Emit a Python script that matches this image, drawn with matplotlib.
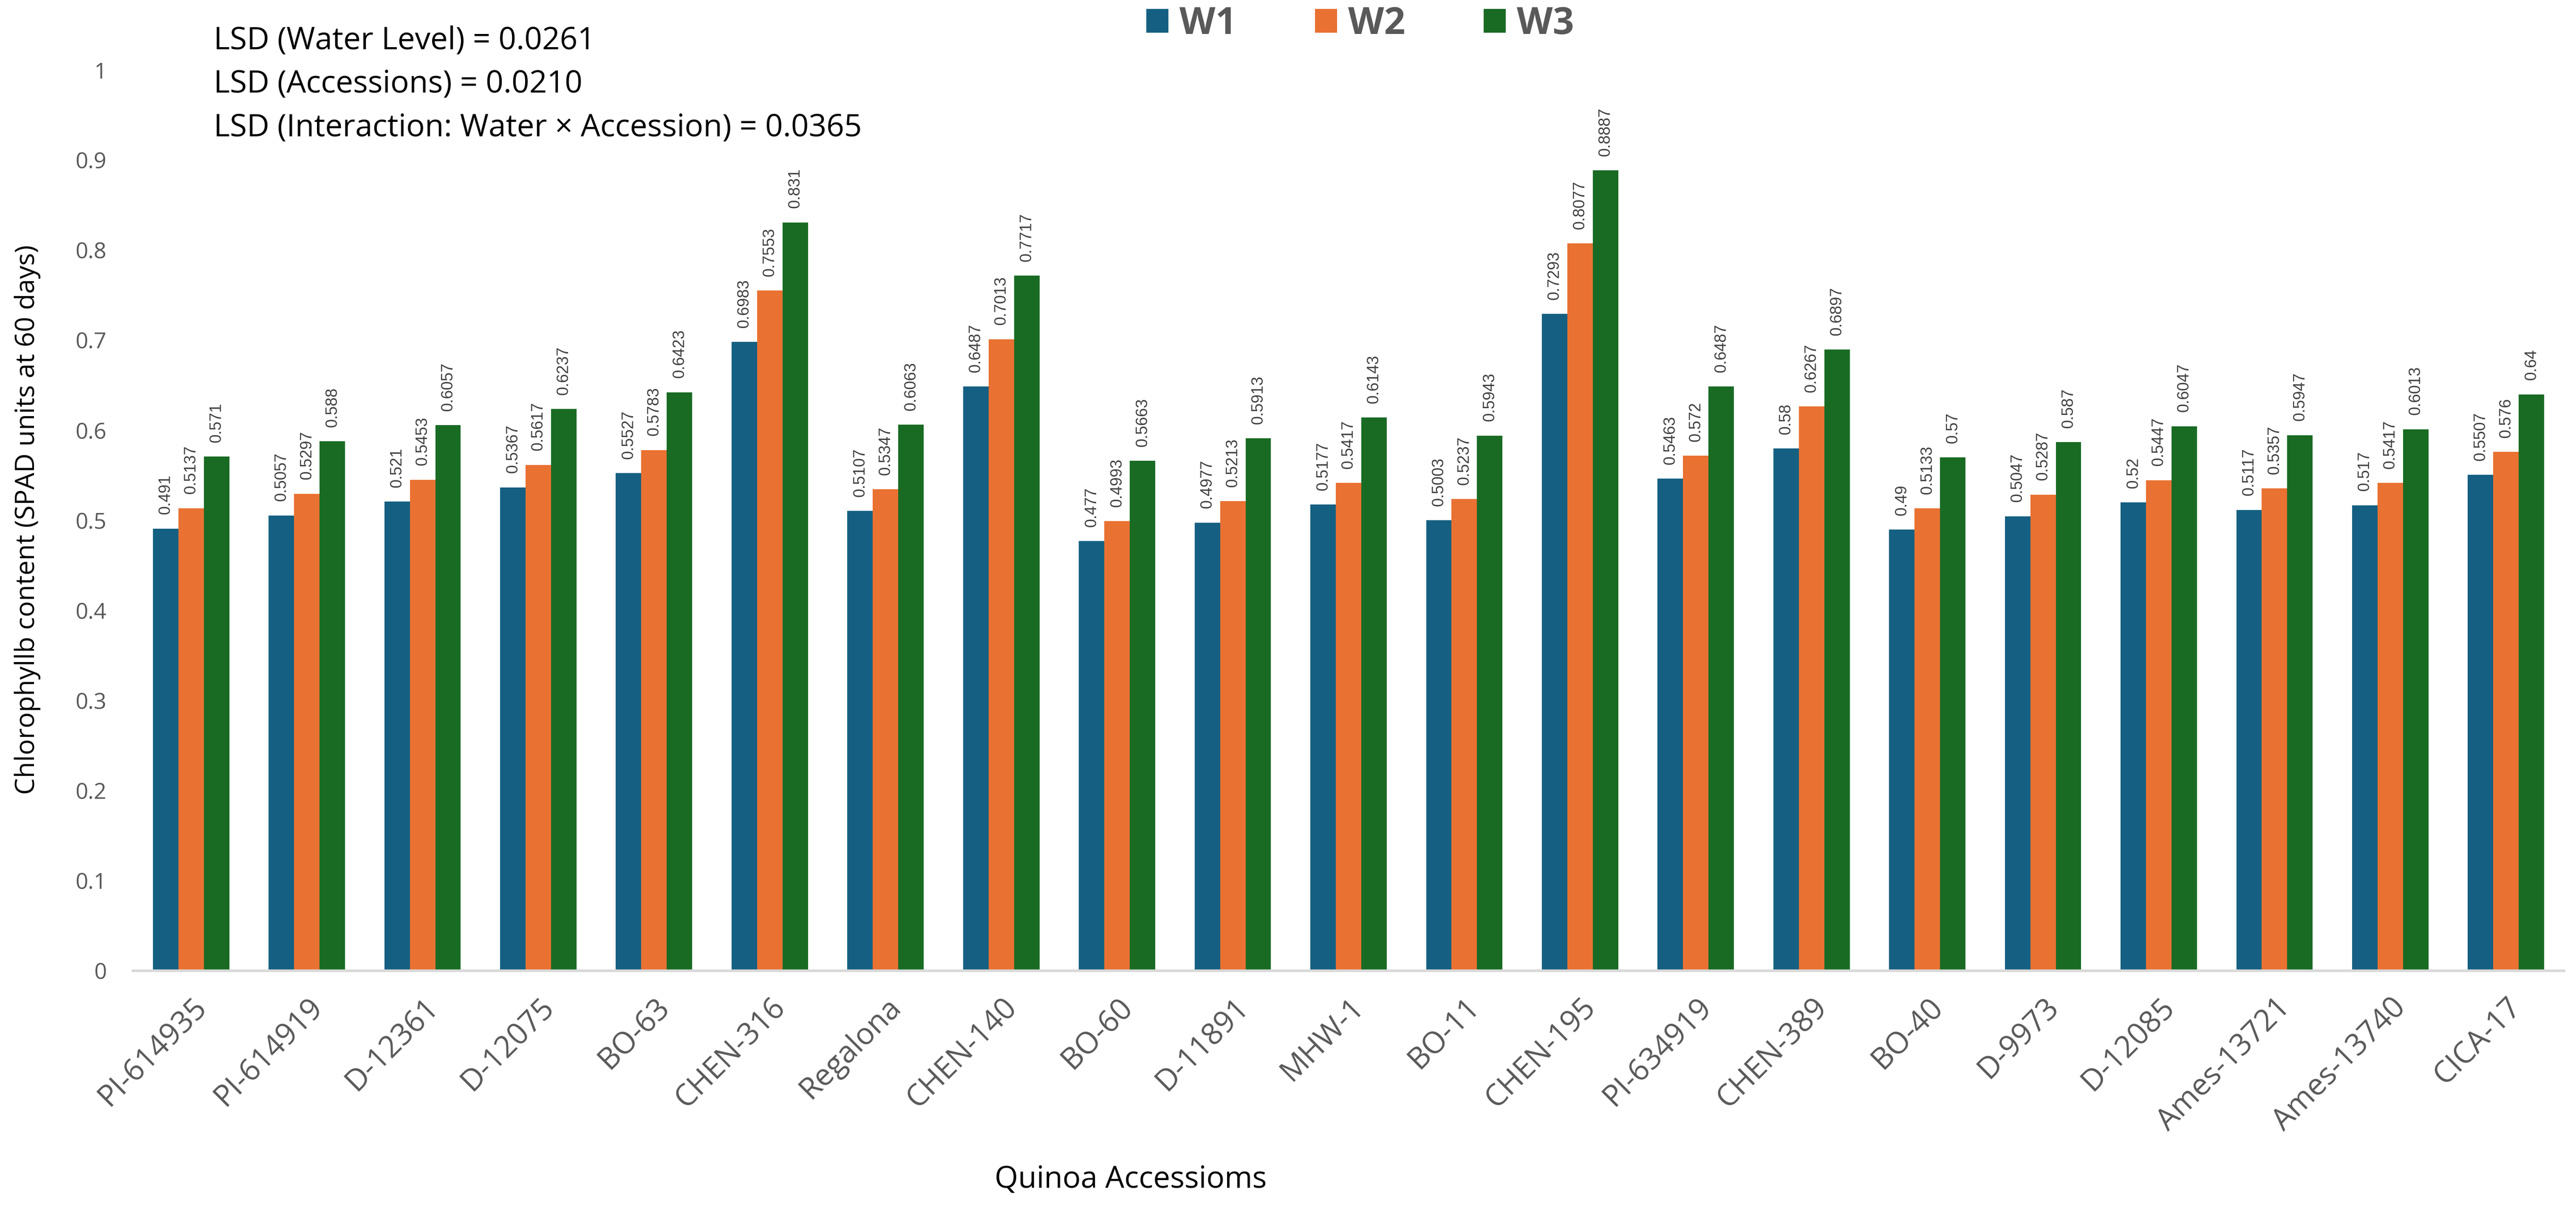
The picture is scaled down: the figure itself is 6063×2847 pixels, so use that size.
import numpy as np
import matplotlib
matplotlib.use("Agg")
import matplotlib.pyplot as plt
from matplotlib.patches import Patch

# data
accessions = ["PI-614935", "PI-614919", "D-12361", "D-12075", "BO-63", "CHEN-316",
              "Regalona", "CHEN-140", "BO-60", "D-11891", "MHW-1", "BO-11", "CHEN-195",
              "PI-634919", "CHEN-389", "BO-40", "D-9973", "D-12085", "Ames-13721",
              "Ames-13740", "CICA-17"]
w1 = [0.491, 0.5057, 0.521, 0.5367, 0.5527, 0.6983, 0.5107, 0.6487, 0.477, 0.4977, 0.5177,
      0.5003, 0.7293, 0.5463, 0.58, 0.49, 0.5047, 0.52, 0.5117, 0.517, 0.5507]
w2 = [0.5137, 0.5297, 0.5453, 0.5617, 0.5783, 0.7553, 0.5347, 0.7013, 0.4993, 0.5213, 0.5417,
      0.5237, 0.8077, 0.572, 0.6267, 0.5133, 0.5287, 0.5447, 0.5357, 0.5417, 0.576]
w3 = [0.571, 0.588, 0.6057, 0.6237, 0.6423, 0.831, 0.6063, 0.7717, 0.5663, 0.5913, 0.6143,
      0.5943, 0.8887, 0.6487, 0.6897, 0.57, 0.587, 0.6047, 0.5947, 0.6013, 0.64]
series_names = ["W1", "W2", "W3"]
lsd_lines = ["LSD (Water Level) = 0.0261",
             "LSD (Accessions) = 0.0210",
             "LSD (Interaction: Water \u00d7 Accession) = 0.0365"]

colors = ["#156082", "#E97132", "#196B24"]
grey = "#595959"

plt.rcParams['font.family'] = ['Open Sans', 'DejaVu Sans']

fig = plt.figure(figsize=(6063 / 300, 2847 / 300), dpi=300)
ax = fig.add_axes([0.0517, 0.197, 0.9436, 0.745])

x = np.arange(len(accessions))
width = 0.22
for i, (vals, col) in enumerate(zip([w1, w2, w3], colors)):
    pos = x + (i - 1) * width
    ax.bar(pos, vals, width, color=col, zorder=2)
    # value labels, turned upright like the excel ones
    for p, v in zip(pos, vals):
        ax.annotate(f"{v:g}", (p, v), xytext=(0, 8), textcoords="offset points",
                    rotation=90, ha="center", va="bottom", fontsize=9,
                    color="#404040", family="Liberation Sans")

ax.set_xlim(-0.5, len(accessions) - 0.5)
ax.set_ylim(0, 1)
ax.set_yticks(np.arange(0, 1.01, 0.1))
ax.set_yticklabels(["0"] + [f"{t:.1f}" for t in np.arange(0.1, 0.95, 0.1)] + ["1"])
ax.set_xticks(x)
ax.set_xticklabels(accessions, rotation=45, ha="right", rotation_mode="anchor")
ax.tick_params(axis="y", length=0, pad=15, labelsize=12.5, labelcolor=grey)
ax.tick_params(axis="x", length=0, pad=12, labelsize=17, labelcolor=grey)
for s in ["top", "right", "left"]:
    ax.spines[s].set_visible(False)
ax.spines["bottom"].set_color("#d9d9d9")
ax.spines["bottom"].set_linewidth(1.5)

fig.text(0.0106, 0.570, "Chlorophyllb content (SPAD units at 60 days)", rotation=90,
         ha="center", va="center", fontsize=15, color="black")
fig.text(0.439, 0.024, "Quinoa Accessioms", ha="center", va="center", fontsize=17, color="black")

for yy, line in zip([0.966, 0.930, 0.894], lsd_lines):
    fig.text(0.083, yy, line, ha="left", va="center", fontsize=17.5, color="black")

handles = [Patch(facecolor=c, label=n) for c, n in zip(colors, series_names)]
leg = fig.legend(handles=handles, loc="center", bbox_to_anchor=(0.528, 0.980), ncol=3,
                 frameon=False, prop={"weight": "bold", "size": 21}, handlelength=0.6,
                 handleheight=0.6, handletextpad=0.3, columnspacing=2.1, labelcolor=grey)

fig.savefig("out.png", dpi=300)
